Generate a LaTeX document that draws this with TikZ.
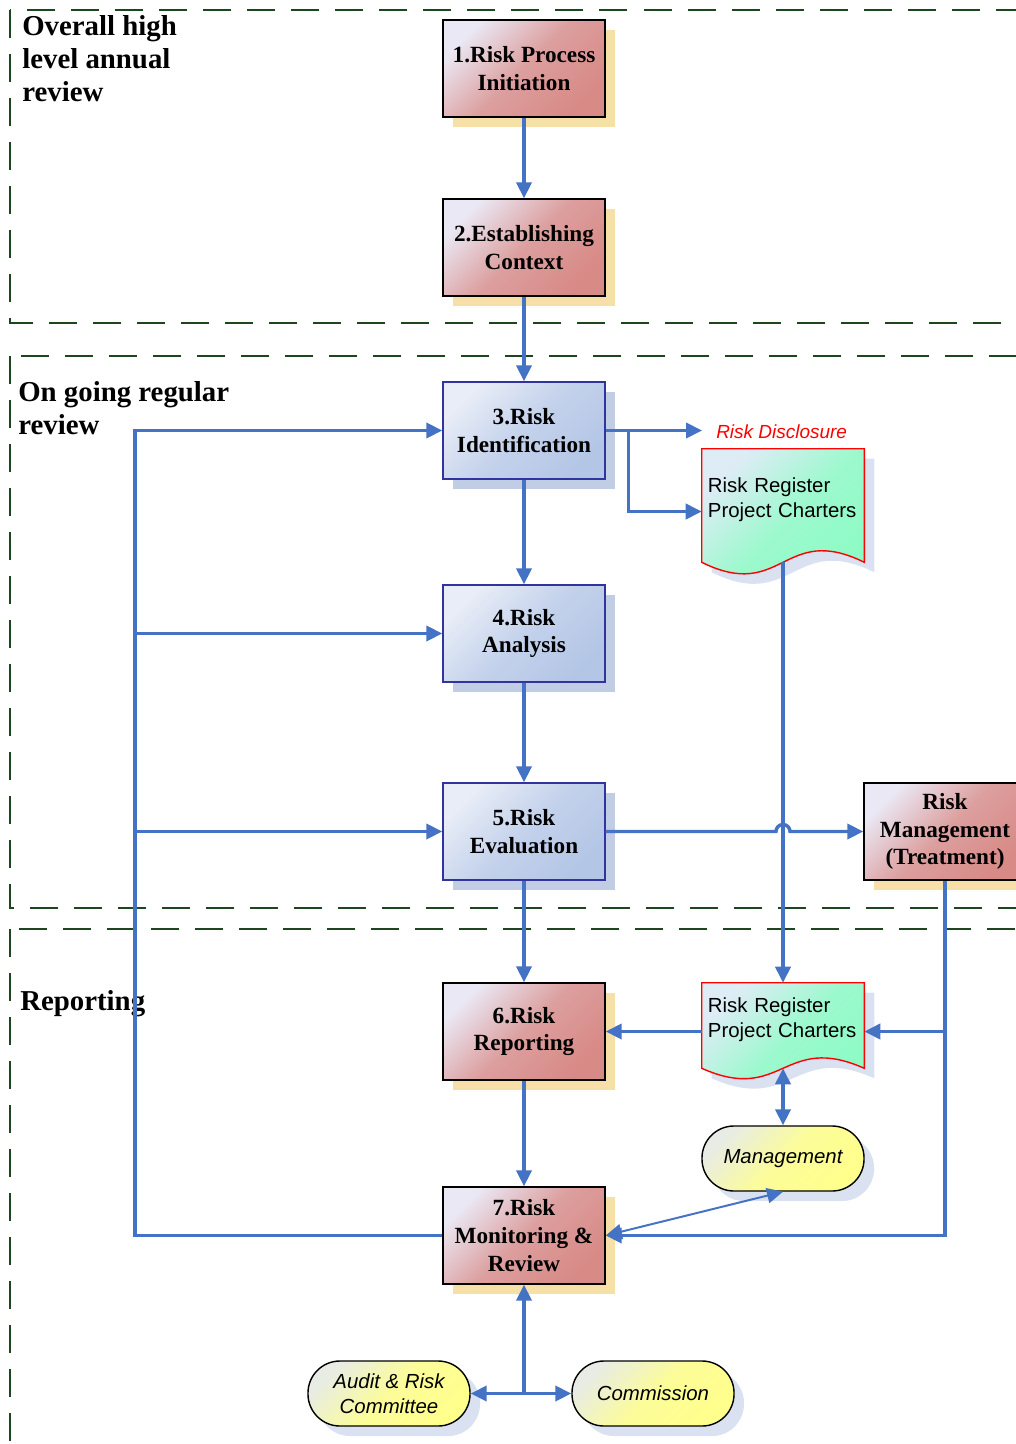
\documentclass[tikz,border=0pt]{standalone}
\usepackage{fontspec}
\setmainfont{Liberation Serif}
\setsansfont{Liberation Sans}
\usetikzlibrary{arrows.meta,shadows,backgrounds,calc}

\definecolor{flowblue}{RGB}{68,114,196}
\definecolor{regiongreen}{RGB}{30,70,30}
\definecolor{pinklight}{RGB}{234,232,244}
\definecolor{pinkdark}{RGB}{216,138,134}
\definecolor{tanshadow}{RGB}{247,223,168}
\definecolor{bluelight}{RGB}{232,237,247}
\definecolor{bluedark}{RGB}{180,198,230}
\definecolor{blueborder}{RGB}{51,51,160}
\definecolor{blueshadow}{RGB}{192,205,229}
\definecolor{doclight}{RGB}{222,236,246}
\definecolor{docgreen}{RGB}{140,252,196}
\definecolor{softshadow}{RGB}{218,226,241}
\definecolor{termlight}{RGB}{232,236,228}
\definecolor{termyellow}{RGB}{255,255,140}

\newcommand{\boxfont}{\fontsize{16.5}{19.8}\selectfont\bfseries}
\newcommand{\regionfont}{\fontsize{20.5}{23.4}\selectfont\bfseries}
\newcommand{\docfont}{\sffamily\fontsize{14.5}{17.7}\selectfont}
\newcommand{\termfont}{\sffamily\itshape\fontsize{14.5}{17.7}\selectfont}
% document outline: #1 node, #2 wave depth, #3 offset
\newcommand{\docpath}[3]{([shift={#3}]#1.north west) -- ([shift={#3}]#1.south west)
  .. controls +(81,#2) and +(-81,-#2) .. ([shift={#3}]#1.south east)
  -- ([shift={#3}]#1.north east) -- cycle}

\tikzset{
  procbox/.style={draw=black, line width=1pt, minimum width=4.05cm, minimum height=2.425cm,
    align=center, font=\boxfont, inner sep=1pt, top color=pinklight, bottom color=pinkdark,
    middle color=pinkdark!78!pinklight, shading angle=45,
    drop shadow={shadow xshift=0.25cm, shadow yshift=-0.25cm, fill=tanshadow, opacity=1}},
  evalbox/.style={procbox, draw=blueborder, top color=bluelight, bottom color=bluedark,
    middle color=bluedark!70!bluelight, shading angle=45,
    drop shadow={shadow xshift=0.25cm, shadow yshift=-0.25cm, fill=blueshadow, opacity=1}},
  docnode/.style={minimum width=4.05cm, text width=3.75cm, inner xsep=0.15cm, align=left,
    font=\docfont, text depth=29pt},
  docfill/.style={draw=red, line width=1pt, top color=doclight, bottom color=docgreen,
    middle color=docgreen!80!doclight, shading angle=45},
  docshadow/.style={fill=softshadow},
  terminal/.style={draw=black, line width=1pt, rounded corners=0.8cm, minimum width=4.05cm,
    minimum height=1.625cm, align=center, font=\termfont, top color=termlight, bottom color=termyellow,
    middle color=termyellow!85!termlight, shading angle=45,
    drop shadow={shadow xshift=0.25cm, shadow yshift=-0.25cm, fill=softshadow, opacity=1}},
  region/.style={draw=regiongreen, line width=1.1pt, dash pattern=on 0.7cm off 0.4cm},
  regionlabel/.style={anchor=north west, inner sep=0pt, align=left, font=\regionfont},
  flow/.style={draw=flowblue, line width=2.4pt, -{Triangle[length=0.4cm,width=0.38cm]}},
  flowboth/.style={flow, {Triangle[length=0.4cm,width=0.38cm]}-{Triangle[length=0.4cm,width=0.38cm]}},
}

\begin{document}
\begin{tikzpicture}[x=0.025cm, y=-0.025cm]
\useasboundingbox (0,0) rectangle (1015,1444);

%--- REGIONS ---
\draw[region] (10,10) rectangle (1040,323);
\draw[region] (10,356) rectangle (1040,908);
\draw[region] (10,929) rectangle (1040,1480);
\node[regionlabel] (overall) at (22,15) {Overall high\\level annual\\review};
\node[regionlabel] (ongoing) at (18,381) {On going regular\\review};
\node[regionlabel] (reporting) at (20,990) {Reporting};

%--- PROCESS STEPS ---
\node[procbox] (s1) at (524,68.5) {1.Risk Process\\Initiation};
\node[procbox] (s2) at (524,247.5) {2.Establishing\\Context};
\node[evalbox] (s3) at (524,430.5) {3.Risk\\Identification};
\node[evalbox] (s4) at (524,633.5) {4.Risk\\Analysis};
\node[evalbox] (s5) at (524,831.5) {5.Risk\\Evaluation};
\node[procbox] (s6) at (524,1031.5) {6.Risk\\Reporting};
\node[procbox] (s7) at (524,1235.5) {7.Risk\\Monitoring \&\\Review};
\node[procbox] (treat) at (945,831.5) {Risk\\Management\\(Treatment)};

%--- DOCUMENTS ---
\node[docnode, minimum height=2.825cm] (doc1) at (783,505.5) {Risk Register\\Project Charters};
\node[docnode, minimum height=2.125cm] (doc2) at (783,1025.5) {Risk Register\\Project Charters};
\begin{scope}[on background layer]
  \fill[docshadow] \docpath{doc1}{40}{(10,10)};
  \path[docfill] \docpath{doc1}{40}{(0,0)};
  \fill[docshadow] \docpath{doc2}{36}{(10,10)};
  \path[docfill] \docpath{doc2}{36}{(0,0)};
\end{scope}
\node[anchor=west, inner sep=0pt, text=red, font=\sffamily\itshape\fontsize{13.5}{16}\selectfont]
  (disc) at (716,432) {Risk Disclosure};

%--- STAKEHOLDERS ---
\node[terminal] (mgmt) at (783,1158.5) {Management};
\node[terminal] (audit) at (389,1393.5) {Audit \& Risk\\Committee};
\node[terminal] (comm) at (653,1393.5) {Commission};

%--- MAIN FLOW ---
\draw[flow] (s1) -- (s2);
\draw[flow] (s2) -- (s3);
\draw[flow] (s3) -- (s4);
\draw[flow] (s4) -- (s5);
\draw[flow] (s5) -- (s6);
\draw[flow] (s6) -- (s7);

% feedback loop on the left
\coordinate (loop) at (135,1235.5);
\draw[flow] (s7.west) -- (loop) |- (s3.west);
\draw[flow] (loop |- s4.west) -- (s4.west);
\draw[flow] (loop |- s5.west) -- (s5.west);

% identification outputs
\coordinate (split) at ($(s3.east)+(23,0)$);
\coordinate (discin) at ([xshift=-0.35cm]disc.west);
\draw[flow] (s3.east) -- (discin |- s3.east);
\draw[flow] (split) |- ([yshift=-0.15cm]doc1.west);
\draw[flow] (doc1.south) -- (doc2.north);

% evaluation to treatment, hopping over the register line
\draw[flow] (s5.east) -- ($(doc1.south |- s5.east)+(-7,0)$)
  arc[start angle=180, end angle=0, radius=0.175cm] -- (treat.west);

% treatment back to register and monitoring
\draw[flow] (treat.south |- s6.east) -- (doc2.east |- s6.east);
\draw[flow] (treat.south) |- (s7.east);
\draw[flow] (doc2.west |- s6.east) -- (s6.east);
\draw[flowboth] (doc2.south) -- (mgmt.north);
\draw[flowboth, line width=1.4pt] (s7.east) -- (mgmt.south);

% committee and commission
\draw[flow] (s7.south |- audit.east) -- (s7.south);
\draw[flowboth] (audit.east) -- (comm.west);
\end{tikzpicture}
\end{document}
